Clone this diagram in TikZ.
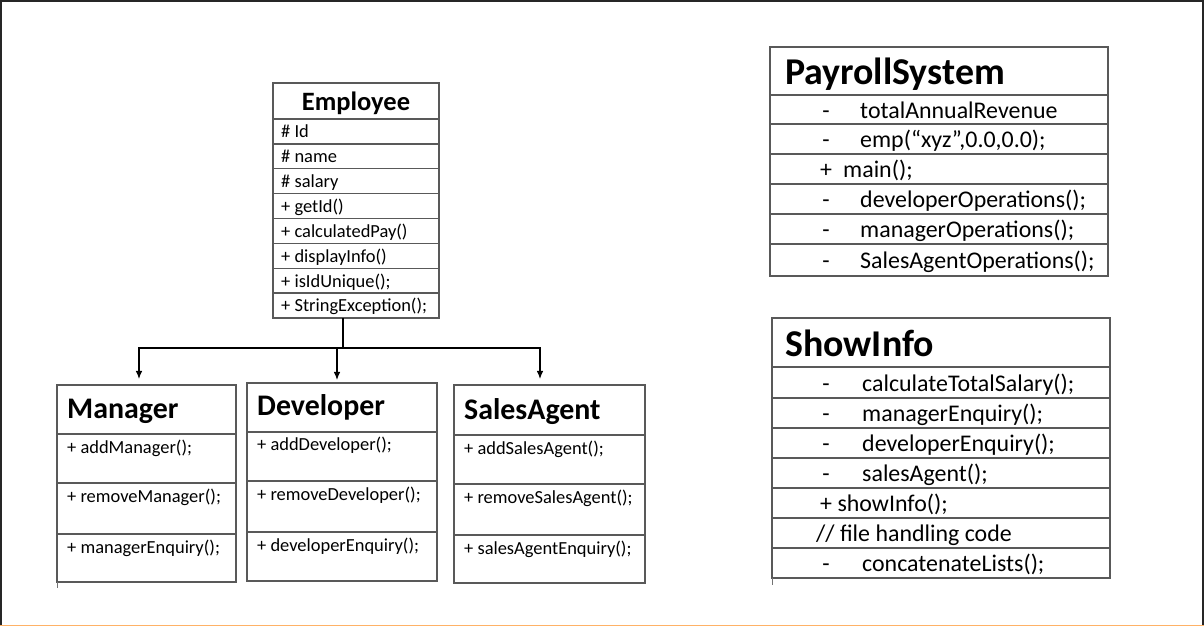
\documentclass[tikz,border=0pt]{standalone}
\usepackage{fontspec}
\setmainfont{Carlito}
\usetikzlibrary{arrows.meta}
\begin{document}
\begin{tikzpicture}[x=1bp,y=-1bp,
  boxline/.style={draw=black!65, line width=1.3bp},
  cbox/.style={boxline, inner sep=0pt, outer sep=0pt},
  stxt/.style={inner sep=0pt, anchor=mid west, yshift=-4bp, font=\fontsize{18.5}{20}\selectfont},
  btxt/.style={inner sep=0pt, anchor=mid west, yshift=-6.5bp, font=\fontsize{24}{26}\selectfont},
  dsh/.style={inner sep=0pt, anchor=mid, yshift=-6.5bp, font=\fontsize{24}{26}\selectfont},
  subttl/.style={inner sep=0pt, anchor=base west, font=\bfseries\fontsize{30}{32}\selectfont},
  bigttl/.style={inner sep=0pt, anchor=base west, font=\bfseries\fontsize{38}{40}\selectfont},
  empttl/.style={inner sep=0pt, anchor=base, font=\bfseries\fontsize{26.6}{28}\selectfont},
  conn/.style={draw=black, line width=1.1bp},
  arr/.style={conn, -{Latex[length=8bp,width=6.5bp]}}
]
\useasboundingbox (0,0) rectangle (1204,626);
\fill[white] (0,0) rectangle (1204,626);
% outer frame
\fill[black!85] (0,0) rectangle (1204,2);
\fill[black!85] (0,0) rectangle (2,626);
\fill[black!85] (1202,0) rectangle (1204,626);
\fill[orange!60!white] (0,624.5) rectangle (1204,626);

% ---------- Employee ----------
\node[cbox, minimum width=166bp, minimum height=235bp] (emp) at (356,200.5) {};
\node[empttl] (emp-t) at (356,111) {Employee};
\foreach \k in {0,...,7}
  \draw[boxline] (273,{119+\k*24.875}) -- (439,{119+\k*24.875});
\foreach \t [count=\i] in {{\# Id},{\# name},{\# salary},{+ getId()},{+ calculatedPay()},{+ displayInfo()},{+ isIdUnique();},{+ StringException();}}
  \node[stxt] (emp-\i) at (281,{119+(\i-0.5)*24.875}) {\t};

% ---------- Manager ----------
\node[cbox, minimum width=179bp, minimum height=197bp] (mgr) at (146.5,483.5) {};
\foreach \y in {434,483,534} \draw[boxline] (57,\y) -- (236,\y);
\node[subttl] (mgr-t) at (67,418) {Manager};
\node[stxt] (mgr-1) at (67,447) {+ addManager();};
\node[stxt] (mgr-2) at (67,496) {+ removeManager();};
\node[stxt] (mgr-3) at (67,547) {+ managerEnquiry();};
\draw[black!55, line width=1bp] (57,582) -- (57,588);

% ---------- Developer ----------
\node[cbox, minimum width=190bp, minimum height=198bp] (dev) at (342,482) {};
\foreach \y in {432,481,532} \draw[boxline] (247,\y) -- (437,\y);
\node[subttl] (dev-t) at (257,415) {Developer};
\node[stxt] (dev-1) at (257,444) {+ addDeveloper();};
\node[stxt] (dev-2) at (257,494) {+ removeDeveloper();};
\node[stxt] (dev-3) at (257,545) {+ developerEnquiry();};

% ---------- SalesAgent ----------
\node[cbox, minimum width=191bp, minimum height=198bp] (sal) at (549.5,484) {};
\foreach \y in {435,484,535} \draw[boxline] (454,\y) -- (645,\y);
\node[subttl] (sal-t) at (464,419) {SalesAgent};
\node[stxt] (sal-1) at (464,448) {+ addSalesAgent();};
\node[stxt] (sal-2) at (464,497) {+ removeSalesAgent();};
\node[stxt] (sal-3) at (464,548) {+ salesAgentEnquiry();};

% ---------- connectors ----------
\coordinate (bus) at (343,348);
\draw[conn] (emp.south -| bus) -- (bus);
\draw[arr, shorten >=6bp] (bus) -| ([xshift=-7.5bp]mgr.north);
\draw[arr, shorten >=3bp] (bus) -| ([xshift=-5bp]dev.north);
\draw[arr, shorten >=6bp] (bus) -| ([xshift=-9.5bp]sal.north);

% ---------- PayrollSystem ----------
\node[cbox, minimum width=338bp, minimum height=229bp] (pay) at (939,161.5) {};
\foreach \y in {95,124,154,184,214,244} \draw[boxline] (770,\y) -- (1108,\y);
\node[bigttl] (pay-t) at (785,85) {PayrollSystem};
\node[dsh] (pay-d1) at (826,109.5) {-};
\node[btxt] (pay-1) at (860,109.5) {totalAnnualRevenue};
\node[dsh] (pay-d2) at (826,139) {-};
\node[btxt] (pay-2) at (860,139) {emp(“xyz”,0.0,0.0);};
\node[dsh] (pay-d3) at (826,169) {+};
\node[btxt] (pay-3) at (843,169) {main();};
\node[dsh] (pay-d4) at (826,199) {-};
\node[btxt] (pay-4) at (860,199) {developerOperations();};
\node[dsh] (pay-d5) at (826,229) {-};
\node[btxt] (pay-5) at (860,229) {managerOperations();};
\node[dsh] (pay-d6) at (826,260) {-};
\node[btxt] (pay-6) at (860,260) {SalesAgentOperations();};

% ---------- ShowInfo ----------
\node[cbox, minimum width=338bp, minimum height=260bp] (shw) at (941,448) {};
\foreach \y in {367,398,428,458,488,518,548} \draw[boxline] (772,\y) -- (1110,\y);
\node[bigttl] (shw-t) at (785,357) {ShowInfo};
\node[dsh] (shw-d1) at (826,382.5) {-};
\node[btxt] (shw-1) at (862,382.5) {calculateTotalSalary();};
\node[dsh] (shw-d2) at (826,413) {-};
\node[btxt] (shw-2) at (862,413) {managerEnquiry();};
\node[dsh] (shw-d3) at (826,443) {-};
\node[btxt] (shw-3) at (862,443) {developerEnquiry();};
\node[dsh] (shw-d4) at (826,473) {-};
\node[btxt] (shw-4) at (862,473) {salesAgent();};
\node[btxt] (shw-5) at (820,503) {+ showInfo();};
\node[btxt] (shw-6) at (816,533) {// file handling code};
\node[dsh] (shw-d7) at (826,563) {-};
\node[btxt] (shw-7) at (862,563) {concatenateLists();};
\draw[black!55, line width=1bp] (772,578) -- (772,585);
\end{tikzpicture}
\end{document}
